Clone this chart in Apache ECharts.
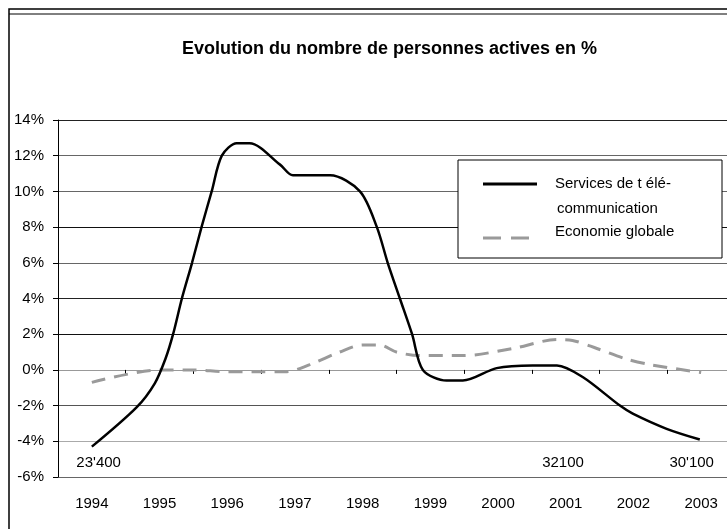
<!DOCTYPE html>
<html>
<head>
<meta charset="utf-8">
<script src="https://cdn.jsdelivr.net/npm/echarts@6/dist/echarts.min.js"></script>
<style>
html, body { margin: 0; padding: 0; background: #fff; }
#chart { width: 727px; height: 529px; }
</style>
</head>
<body>
<div id="chart"></div>
<script>
// années (axe des x)
var years = ['1994', '1995', '1996', '1997', '1998', '1999', '2000', '2001', '2002', '2003'];

// Services de télécommunication
var teleX = [1994.00, 1994.66, 1994.93, 1995.09, 1995.20, 1995.33, 1995.48, 1995.62, 1995.77, 1995.92,
             1996.14, 1996.33, 1996.78, 1996.97, 1997.52, 1997.96, 1998.21, 1998.37, 1998.55, 1998.73,
             1998.89, 1999.24, 1999.48, 1999.98, 2000.51, 2000.87, 2001.25, 2001.80, 2001.99, 2002.49, 2002.98];
var teleY = [-4.3, -2.1, -0.75, 0.65, 2.0, 4.0, 6.0, 8.0, 10.0, 12.0,
             12.7, 12.7, 11.5, 10.9, 10.9, 10.0, 8.0, 6.0, 4.0, 2.0,
             0.0, -0.6, -0.6, 0.1, 0.25, 0.25, -0.4, -2.0, -2.45, -3.3, -3.9];

// Economie globale
var ecoX = [1994.0, 1995.0, 1995.5, 1996.0, 1996.48, 1996.88, 1997.22, 1997.66, 1998.0, 1998.25,
            1998.5, 1998.84, 1999.48, 2000.22, 2000.87, 2001.1, 2001.46, 2001.9, 2002.24, 2003.0];
var ecoY = [-0.7, 0.0, 0.0, -0.1, -0.1, -0.1, 0.3, 1.0, 1.4, 1.4,
            1.0, 0.8, 0.8, 1.2, 1.7, 1.65, 1.2, 0.6, 0.3, -0.15];

// étiquettes (nombre de personnes)
var noteX = [1994.1, 2000.96, 2002.86];
var noteY = [-5.2, -5.2, -5.2];
var noteText = ["23'400", '32100', "30'100"];

var seriesNames = ['Services de t élé-', 'Economie globale'];
var legendSub = 'communication';
var titleText = 'Evolution du nombre de personnes actives en %';

var FONT = '"Liberation Sans", Arial, sans-serif';

var zip = function(xs, ys) {
    var out = [];
    for (var i = 0; i < xs.length; i++) {
        out.push([xs[i], ys[i]]);
    }
    return out;
};

var notes = [];
for (var i = 0; i < noteX.length; i++) {
    notes.push({ value: [noteX[i], noteY[i]], name: noteText[i] });
}

var chart = echarts.init(document.getElementById('chart'));

var option = {
    animation: false,
    backgroundColor: '#fff',
    textStyle: { fontFamily: FONT },
    title: {
        text: titleText,
        left: 177,
        top: 35,
        textStyle: { fontFamily: FONT, fontSize: 18, fontWeight: 'bold', color: '#000' }
    },
    grid: { left: 58, top: 120, width: 677, height: 357, containLabel: false, outerBoundsMode: 'none' },
    xAxis: [
        {
            type: 'category',
            data: years,
            boundaryGap: true,
            axisLine: { onZero: true, lineStyle: { color: '#999', width: 1 } },
            axisTick: { show: true, length: 4, lineStyle: { color: '#000' } },
            axisLabel: { margin: 19, fontSize: 15, color: '#000', fontFamily: FONT },
            splitLine: { show: false }
        },
        {
            type: 'value',
            min: 1993.5,
            max: 2003.5,
            show: false
        }
    ],
    yAxis: {
        type: 'value',
        min: -6,
        max: 14,
        interval: 2,
        axisLine: { show: true, lineStyle: { color: '#000', width: 1 } },
        axisTick: { show: true, length: 5, lineStyle: { color: '#000' } },
        axisLabel: { formatter: '{value}%', fontSize: 15, color: '#000', margin: 14, fontFamily: FONT },
        splitLine: {
            show: true,
            lineStyle: {
                color: ['#666', '#aaa', '#555', '#aaa', '#111', '#222', '#666', '#111', '#666', '#666', '#222'],
                width: 1
            }
        }
    },
    series: [
        {
            name: seriesNames[0],
            type: 'line',
            xAxisIndex: 1,
            data: zip(teleX, teleY),
            smooth: 0.3,
            showSymbol: false,
            lineStyle: { color: '#000', width: 2.5 },
            z: 4
        },
        {
            name: seriesNames[1],
            type: 'line',
            xAxisIndex: 1,
            data: zip(ecoX, ecoY),
            smooth: 0.3,
            showSymbol: false,
            lineStyle: { color: '#9a9a9a', width: 3, type: [14, 9] },
            z: 3
        },
        {
            type: 'scatter',
            xAxisIndex: 1,
            data: notes,
            symbolSize: 0,
            itemStyle: { color: '#fff', opacity: 1 },
            label: {
                show: true,
                position: 'inside',
                formatter: function(p) { return p.name; },
                fontSize: 15,
                color: '#000',
                opacity: 1,
                textBorderWidth: 0,
                fontFamily: FONT
            },
            silent: true
        }
    ],
    graphic: [
        // cadre
        { type: 'rect', shape: { x: 9, y: 9, width: 760, height: 560 }, style: { fill: null, stroke: '#000', lineWidth: 1.5 }, silent: true },
        { type: 'line', shape: { x1: 9, y1: 14, x2: 727, y2: 14 }, style: { stroke: '#000', lineWidth: 1 }, silent: true },
        // légende
        { type: 'rect', shape: { x: 458, y: 160, width: 264, height: 98 }, style: { fill: '#fff', stroke: '#000', lineWidth: 1 }, z: 10 },
        { type: 'line', shape: { x1: 483, y1: 184, x2: 537, y2: 184 }, style: { stroke: '#000', lineWidth: 3 }, z: 11 },
        { type: 'text', x: 555, y: 184, style: { text: seriesNames[0], fontSize: 15, fontFamily: FONT, fill: '#000', verticalAlign: 'middle' }, z: 11 },
        { type: 'text', x: 557, y: 209, style: { text: legendSub, fontSize: 15, fontFamily: FONT, fill: '#000', verticalAlign: 'middle' }, z: 11 },
        { type: 'line', shape: { x1: 483, y1: 238, x2: 537, y2: 238 }, style: { stroke: '#9a9a9a', lineWidth: 3, lineDash: [18, 10] }, z: 11 },
        { type: 'text', x: 555, y: 232, style: { text: seriesNames[1], fontSize: 15, fontFamily: FONT, fill: '#000', verticalAlign: 'middle' }, z: 11 }
    ]
};

chart.setOption(option);
</script>
</body>
</html>
